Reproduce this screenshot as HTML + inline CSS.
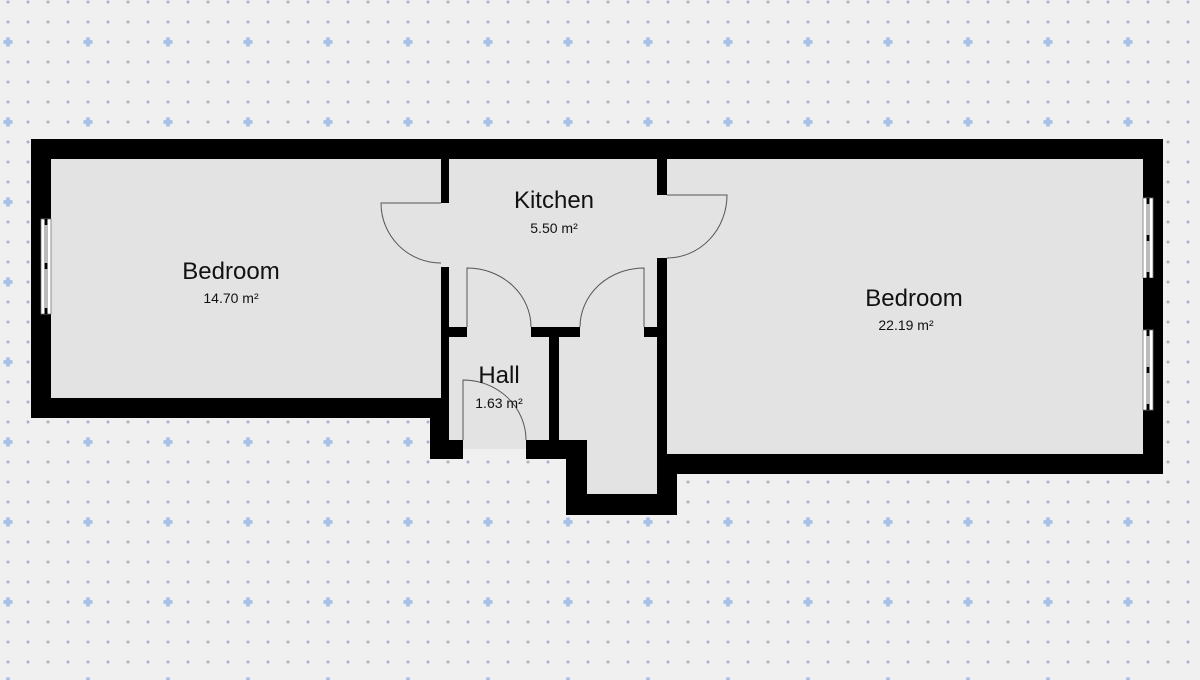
<!DOCTYPE html>
<html><head><meta charset="utf-8"><style>
html,body{margin:0;padding:0;background:#f0f0f0;}
svg{display:block}
text{font-family:"Liberation Sans",sans-serif;fill:#111;text-anchor:middle}
</style></head><body>
<svg width="1200" height="680" viewBox="0 0 1200 680" xmlns="http://www.w3.org/2000/svg">
<defs>
<pattern id="dots" x="0" y="0" width="20" height="20" patternUnits="userSpaceOnUse">
<circle cx="8" cy="2" r="1.5" fill="#a7b2c6"/>
</pattern>
<pattern id="cross" x="0" y="2" width="80" height="80" patternUnits="userSpaceOnUse">
<rect x="6" y="35.5" width="4" height="9" fill="#a9c3e6"/>
<rect x="3.5" y="38" width="9" height="4" fill="#a9c3e6"/>
</pattern>
</defs>
<rect width="1200" height="680" fill="#f0f0f0"/>
<rect width="1200" height="680" fill="url(#dots)"/>
<rect width="1200" height="680" fill="url(#cross)"/>

<g fill="#000">
<rect x="31" y="139" width="1132" height="20"/>
<rect x="31" y="139" width="20" height="279"/>
<rect x="31" y="398" width="418" height="20"/>
<rect x="430" y="398" width="33" height="61"/>
<rect x="1143" y="139" width="20" height="335"/>
<rect x="657" y="454" width="506" height="20"/>
<rect x="657" y="454" width="20" height="61"/>
<rect x="566" y="494" width="111" height="21"/>
<rect x="566" y="440" width="21" height="75"/>
<rect x="526" y="440" width="61" height="19"/>
<rect x="441" y="159" width="8" height="44"/>
<rect x="441" y="267" width="8" height="140"/>
<rect x="657" y="159" width="10" height="36"/>
<rect x="657" y="258" width="10" height="200"/>
<rect x="449" y="327" width="18" height="10"/>
<rect x="531" y="327" width="49" height="10"/>
<rect x="644" y="327" width="13" height="10"/>
<rect x="549" y="337" width="10" height="110"/>
</g>

<g fill="#e3e3e3">
<rect x="51" y="159" width="390" height="239"/>
<rect x="449" y="159" width="208" height="168"/>
<rect x="441" y="203" width="8" height="64"/>
<rect x="657" y="195" width="10" height="63"/>
<rect x="667" y="159" width="476" height="295"/>
<rect x="449" y="337" width="100" height="103"/>
<rect x="467" y="327" width="64" height="10"/>
<rect x="580" y="327" width="64" height="10"/>
<rect x="559" y="337" width="98" height="103"/>
<rect x="587" y="440" width="70" height="54"/>
<rect x="463" y="440" width="63" height="9"/>
</g>

<g fill="none" stroke="#555" stroke-width="1">
<path d="M441 203 H381 A60 60 0 0 0 441 263"/>
<path d="M667 195 H727 A60 63 0 0 1 667 258"/>
<path d="M467 327 V268 A64 59 0 0 1 531 327"/>
<path d="M644 327 V268 A64 59 0 0 0 580 327"/>
<path d="M463 440 V380 A63 60 0 0 1 526 440"/>
</g>

<g>
<rect x="41" y="219" width="10" height="95" fill="#fff" stroke="#777" stroke-width="0.8"/>
<line x1="45" y1="219" x2="45" y2="314" stroke="#555" stroke-width="0.8"/>
<line x1="47" y1="219" x2="47" y2="314" stroke="#555" stroke-width="0.8"/>
<rect x="44.5" y="219" width="3" height="6" fill="#000"/>
<rect x="44.5" y="263" width="3" height="6" fill="#000"/>
<rect x="44.5" y="308" width="3" height="6" fill="#000"/>

<rect x="1143" y="198" width="10" height="80" fill="#fff" stroke="#777" stroke-width="0.8"/>
<line x1="1147" y1="198" x2="1147" y2="278" stroke="#555" stroke-width="0.8"/>
<line x1="1149" y1="198" x2="1149" y2="278" stroke="#555" stroke-width="0.8"/>
<rect x="1146.5" y="198" width="3" height="6" fill="#000"/>
<rect x="1146.5" y="235" width="3" height="6" fill="#000"/>
<rect x="1146.5" y="272" width="3" height="6" fill="#000"/>
<rect x="1143" y="278" width="20" height="52" fill="#000"/>
<rect x="1143" y="330" width="10" height="80" fill="#fff" stroke="#777" stroke-width="0.8"/>
<line x1="1147" y1="330" x2="1147" y2="410" stroke="#555" stroke-width="0.8"/>
<line x1="1149" y1="330" x2="1149" y2="410" stroke="#555" stroke-width="0.8"/>
<rect x="1146.5" y="330" width="3" height="6" fill="#000"/>
<rect x="1146.5" y="367" width="3" height="6" fill="#000"/>
<rect x="1146.5" y="404" width="3" height="6" fill="#000"/>
</g>

<text x="231" y="279" font-size="24">Bedroom</text>
<text x="231" y="303" font-size="14">14.70 m²</text>
<text x="554" y="208" font-size="24">Kitchen</text>
<text x="554" y="233" font-size="14">5.50 m²</text>
<text x="499" y="383" font-size="24">Hall</text>
<text x="499" y="408" font-size="14">1.63 m²</text>
<text x="914" y="306" font-size="24">Bedroom</text>
<text x="906" y="330" font-size="14">22.19 m²</text>
</svg>
</body></html>
